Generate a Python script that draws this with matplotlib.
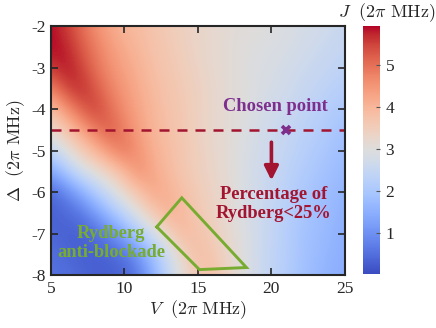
import numpy as np
import matplotlib
matplotlib.use("Agg")
import matplotlib.pyplot as plt

# ---- data ----
V_vals = [5, 6, 7, 8, 9, 10, 11, 12, 13, 14, 15, 16, 17, 18, 19, 20, 21, 22, 23, 24, 25]
D_vals = [-2.0, -2.5, -3.0, -3.5, -4.0, -4.5, -5.0, -5.5, -6.0, -6.5, -7.0, -7.5, -8.0]
J_rows = [
    [5.9, 5.6, 5.1, 4.6, 4.25, 4.0, 3.85, 3.7, 3.55, 3.4, 3.3, 3.2, 3.1, 3.05, 3.0, 2.95, 2.9, 2.8, 2.75, 2.65, 2.55],
    [5.93, 5.8, 5.3, 4.85, 4.45, 4.15, 3.95, 3.75, 3.6, 3.45, 3.3, 3.2, 3.1, 3.0, 2.95, 2.9, 2.85, 2.75, 2.65, 2.55, 2.45],
    [5.6, 5.9, 5.55, 5.0, 4.6, 4.3, 4.05, 3.8, 3.65, 3.5, 3.35, 3.2, 3.1, 3.0, 2.9, 2.85, 2.75, 2.65, 2.55, 2.45, 2.35],
    [4.8, 5.45, 5.75, 5.3, 4.8, 4.45, 4.15, 3.9, 3.7, 3.55, 3.4, 3.25, 3.1, 3.0, 2.9, 2.8, 2.7, 2.55, 2.45, 2.3, 2.2],
    [3.85, 4.5, 5.15, 5.55, 5.05, 4.6, 4.25, 3.95, 3.75, 3.6, 3.4, 3.25, 3.1, 3.0, 2.85, 2.7, 2.6, 2.45, 2.3, 2.15, 2.05],
    [3.2, 3.7, 4.25, 4.85, 5.25, 4.8, 4.35, 4.0, 3.8, 3.6, 3.4, 3.25, 3.1, 2.95, 2.8, 2.65, 2.5, 2.35, 2.2, 2.05, 1.9],
    [2.4, 3.0, 3.5, 4.0, 4.55, 4.95, 4.5, 4.1, 3.85, 3.65, 3.45, 3.25, 3.1, 2.9, 2.75, 2.6, 2.45, 2.25, 2.1, 1.95, 1.8],
    [1.3, 2.0, 2.7, 3.1, 3.5, 4.0, 4.6, 4.2, 3.9, 3.65, 3.45, 3.3, 3.1, 2.9, 2.7, 2.55, 2.35, 2.15, 2.0, 1.85, 1.7],
    [0.4, 0.8, 1.4, 2.1, 2.7, 3.3, 3.75, 4.3, 4.05, 3.8, 3.55, 3.35, 3.15, 2.9, 2.7, 2.5, 2.3, 2.05, 1.9, 1.75, 1.6],
    [0.3, 0.4, 0.6, 1.1, 1.8, 2.4, 3.1, 3.6, 4.1, 3.9, 3.6, 3.4, 3.15, 2.9, 2.7, 2.45, 2.25, 2.0, 1.85, 1.7, 1.55],
    [0.4, 0.3, 0.3, 0.45, 0.8, 1.4, 2.1, 2.8, 3.4, 3.95, 3.75, 3.5, 3.2, 2.95, 2.7, 2.45, 2.2, 1.95, 1.8, 1.65, 1.5],
    [0.5, 0.4, 0.3, 0.3, 0.35, 0.55, 1.1, 1.9, 2.7, 3.35, 3.85, 3.65, 3.3, 3.0, 2.7, 2.4, 2.2, 1.95, 1.75, 1.6, 1.5],
    [0.55, 0.5, 0.4, 0.3, 0.3, 0.35, 0.7, 1.5, 2.4, 3.15, 3.6, 3.8, 3.35, 3.0, 2.7, 2.4, 2.15, 1.9, 1.7, 1.55, 1.45],
]
region_V = [12.2, 13.9, 18.3, 15.1, 12.2]
region_D = [-6.84, -6.14, -7.82, -7.87, -6.84]
chosen_V = [21.0]
chosen_D = [-4.5]
cut_D = -4.5
x_ticks = [5, 10, 15, 20, 25]
y_ticks = [-2, -3, -4, -5, -6, -7, -8]
cb_ticks = [1, 2, 3, 4, 5]

# ---- style ----
plt.rcParams['mathtext.fontset'] = 'cm'
plt.rcParams['axes.unicode_minus'] = False
serif = 'Liberation Serif'
red = '#A2142F'
purple = '#7E2F8E'
green = '#77AC30'
spine_c = '#262626'

fig = plt.figure(figsize=(4.36, 3.28), dpi=100)
ax = fig.add_axes([0.117, 0.1616, 0.674, 0.759])
cax = fig.add_axes([0.8326, 0.1646, 0.039, 0.756])

J = np.array(J_rows)
dv = (V_vals[1] - V_vals[0]) / 2
dd = abs(D_vals[1] - D_vals[0]) / 2
im = ax.imshow(J, cmap='coolwarm', vmin=0.02, vmax=5.93, aspect='auto',
               interpolation='bicubic',
               extent=[V_vals[0] - dv, V_vals[-1] + dv, D_vals[-1] - dd, D_vals[0] + dd],
               origin='upper')
ax.set_xlim(5, 25)
ax.set_ylim(-8, -2)

ax.axhline(cut_D, color=red, lw=1.8, dashes=(4, 3.2))
ax.plot(chosen_V, chosen_D, marker='x', ms=6, mew=2.6, color=purple, ls='none')
ax.plot(region_V, region_D, color=green, lw=2.1, solid_joinstyle='miter')

ax.annotate('', xy=(20.0, -5.72), xytext=(20.0, -4.8),
            arrowprops=dict(arrowstyle='-|>,head_length=0.6,head_width=0.3',
                            lw=2.6, color=red, mutation_scale=14, shrinkA=0, shrinkB=0))

ax.text(20.25, -3.95, 'Chosen point', color=purple, fontsize=13.3, fontweight='bold',
        family=serif, ha='center', va='center')
ax.text(20.15, -6.29, 'Percentage of\nRydberg<25%', color=red, fontsize=13.3,
        fontweight='bold', family=serif, ha='center', va='center', multialignment='center',
        linespacing=1.15)
ax.text(9.1, -7.24, 'Rydberg\nanti-blockade', color=green, fontsize=13.3,
        fontweight='bold', family=serif, ha='center', va='center', multialignment='center',
        linespacing=1.15)

ax.set_xticks(x_ticks)
ax.set_yticks(y_ticks)
ax.set_xticklabels([str(t) for t in x_ticks], family=serif, fontsize=12.5)
ax.set_yticklabels([str(t) for t in y_ticks], family=serif, fontsize=12.5)
ax.tick_params(direction='in', length=5, width=1.2, color=spine_c, top=True, right=True,
               labelcolor='#262626', pad=4)
for s in ax.spines.values():
    s.set_linewidth(1.5)
    s.set_color(spine_c)

ax.set_xlabel(r'$V\ \ (2\pi\ \mathrm{MHz})$', fontsize=13, labelpad=1, color='#262626')
ax.set_ylabel(r'$\Delta\ \ (2\pi\ \mathrm{MHz})$', fontsize=13, labelpad=3, color='#262626')

cb = fig.colorbar(im, cax=cax, ticks=cb_ticks)
cb.outline.set_visible(False)
cax.tick_params(direction='in', length=3, width=0.8, color='#555555', labelsize=12.5, pad=4)
for lab in cax.get_yticklabels():
    lab.set_family(serif)
    lab.set_color('#262626')
fig.text(0.998, 0.96, r'$J\ \ (2\pi\ \mathrm{MHz})$', fontsize=13, ha='right', va='center',
         color='#262626')

fig.savefig('out.png', dpi=100)
